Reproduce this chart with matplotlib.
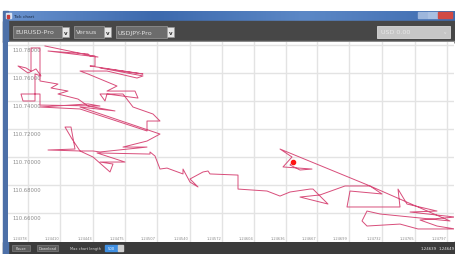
import matplotlib
matplotlib.use("Agg")
import matplotlib.pyplot as plt
from matplotlib.patches import Rectangle
import numpy as np

# EURUSD (x) vs USDJPY (y) tick trail
eurusd = [
    1.24395, 1.24448, 1.24398, 1.24438, 1.24440, 1.24445, 1.24445, 1.24440, 1.24493, 1.24450,
    1.24493, 1.24487, 1.24457, 1.24430, 1.24438, 1.24467, 1.24457, 1.24485, 1.24488, 1.24457,
    1.24455, 1.24450, 1.24473, 1.24483, 1.24503, 1.24510, 1.24497, 1.24497, 1.24430, 1.24390,
    1.24438, 1.24450, 1.24390, 1.24390, 1.24371, 1.24373, 1.24385, 1.24385, 1.24391, 1.24386,
    1.24378, 1.24368, 1.24376, 1.24381, 1.24381, 1.24390, 1.24390, 1.24390, 1.24408, 1.24401,
    1.24418, 1.24408, 1.24428, 1.24438, 1.24465, 1.24430, 1.24510, 1.24497, 1.24473, 1.24497,
    1.24450, 1.24443, 1.24430, 1.24398, 1.24425, 1.24421, 1.24415, 1.24422, 1.24430, 1.24443,
    1.24460, 1.24463, 1.24450, 1.24475, 1.24447, 1.24500, 1.24500, 1.24505, 1.24510, 1.24517,
    1.24533, 1.24533, 1.24540, 1.24548, 1.24540, 1.24553, 1.24558, 1.24560, 1.24588, 1.24588,
    1.24617, 1.24630, 1.24640, 1.24660, 1.24663, 1.24678, 1.24650, 1.24670, 1.24695, 1.24720,
    1.24732, 1.24700, 1.24697, 1.24750, 1.24748, 1.24757, 1.24787, 1.24760, 1.24805, 1.24770,
    1.24787, 1.24805, 1.24768, 1.24750, 1.24717, 1.24712, 1.24717, 1.24730, 1.24800, 1.24720,
    1.24630, 1.24642, 1.24633, 1.24662, 1.24650, 1.24640, 1.24643,
]
usdjpy = [
    110.7793, 110.7714, 110.7757, 110.7736, 110.7721, 110.7721, 110.7650, 110.7650, 110.7593, 110.7636,
    110.7579, 110.7564, 110.7614, 110.7614, 110.7593, 110.7507, 110.7471, 110.7471, 110.7421, 110.7450,
    110.7400, 110.7450, 110.7450, 110.7357, 110.7307, 110.7257, 110.7257, 110.7186, 110.7343, 110.7357,
    110.7379, 110.7364, 110.7371, 110.7450, 110.7450, 110.7400, 110.7400, 110.7593, 110.7579, 110.7629,
    110.7600, 110.7650, 110.7636, 110.7614, 110.7779, 110.7779, 110.7593, 110.7543, 110.7521, 110.7493,
    110.7471, 110.7450, 110.7414, 110.7364, 110.7329, 110.7357, 110.7164, 110.7114, 110.7071, 110.7071,
    110.7036, 110.7043, 110.7043, 110.7050, 110.7057, 110.7214, 110.7214, 110.7129, 110.7043, 110.7000,
    110.6893, 110.6950, 110.6964, 110.6964, 110.7029, 110.7021, 110.7036, 110.7007, 110.6914, 110.6921,
    110.6879, 110.6914, 110.6821, 110.6786, 110.6843, 110.6893, 110.6900, 110.6879, 110.6871, 110.6771,
    110.6757, 110.6721, 110.6750, 110.6771, 110.6771, 110.6664, 110.6714, 110.6729, 110.6793, 110.6793,
    110.6736, 110.6757, 110.6643, 110.6643, 110.6771, 110.6664, 110.6614, 110.6607, 110.6571, 110.6550,
    110.6507, 110.6486, 110.6486, 110.6521, 110.6507, 110.6543, 110.6614, 110.6593, 110.6543, 110.6793,
    110.7057, 110.7000, 110.6929, 110.6914, 110.6907, 110.6943, 110.6964,
]

x_ticks = [1.24378, 1.24410, 1.24443, 1.24475, 1.24507, 1.24540, 1.24572,
           1.24604, 1.24636, 1.24667, 1.24699, 1.24732, 1.24765, 1.24797]
y_ticks = [110.78, 110.76, 110.74, 110.72, 110.70, 110.68, 110.66]

symbols = ["EURUSD-Pro", "Versus", "USDJPY-Pro"]
balance = "USD 0.00"
bid_ask = ["1.24639", "1.24649"]
max_len = "500"

W, H = 456, 255
fig = plt.figure(figsize=(W / 100, H / 100), dpi=100)
fig.patch.set_facecolor("white")

# --- window chrome, drawn in pixel space ---
bg = fig.add_axes([0, 0, 1, 1])
bg.set_xlim(0, W)
bg.set_ylim(H, 0)
bg.axis("off")

grad = np.linspace(0, 1, 200).reshape(1, -1)
bg.imshow(grad, extent=(3, W, 23, 12), cmap=matplotlib.colors.LinearSegmentedColormap.from_list(
    "tb", ["#6a93cf", "#3c69ad", "#5c88c6", "#3f6cb0"]), aspect="auto", zorder=1)
bg.add_patch(Rectangle((3, 22), W - 3, 21, color="#474747", zorder=2))
bg.add_patch(Rectangle((3, 42), W - 3, 1.2, color="#8c8c8c", zorder=2))
bg.add_patch(Rectangle((3, 243), W - 3, 12, color="#3b3b3b", zorder=2))
bg.add_patch(Rectangle((3, 12), 5, 243, color="#4d70a8", zorder=3))

# title bar
bg.add_patch(Rectangle((6, 14), 5, 5, color="#d8e4f4", zorder=3))
bg.add_patch(Rectangle((7, 16), 2.5, 2.5, color="#c83a3a", zorder=4))
bg.text(13, 17.5, "Tick chart", fontsize=3.2, color="#1c2a40", va="center", zorder=4)
bg.add_patch(Rectangle((418, 13), 10, 6, color="#9db6dc", zorder=3))
bg.add_patch(Rectangle((428, 13), 10, 6, color="#a9c0e2", zorder=3))
bg.add_patch(Rectangle((438, 13), 14, 6, color="#d24a44", zorder=3))


def combo(x0, x1, label):
    bg.add_patch(Rectangle((x0, 27), x1 - x0 - 8, 12, facecolor="#6c6c6c",
                           edgecolor="#8e8e8e", lw=0.6, zorder=3))
    bg.add_patch(Rectangle((x1 - 8, 28), 7, 10, facecolor="#e6e6e6",
                           edgecolor="#999999", lw=0.4, zorder=3))
    bg.text(x1 - 4.5, 33.3, "v", fontsize=4, color="#333333", ha="center",
            va="center", fontweight="bold", zorder=4)
    bg.text(x0 + 2, 33, label, fontsize=4.6, color="#dedede", va="center", zorder=4)


combo(13, 70, symbols[0])
combo(74, 112, symbols[1])
combo(116, 175, symbols[2])

bg.add_patch(Rectangle((377, 27), 73, 12, facecolor="#c6c6c6", edgecolor="#dadada",
                       lw=0.6, zorder=3))
bg.text(381, 33, balance, fontsize=4.6, color="#e8e8e8", va="center", zorder=4)
bg.text(445, 32.5, "v", fontsize=3, color="#e8e8e8", ha="center", va="center", zorder=4)

# bottom bar
for x0, x1, label in [(12, 30, "Pause"), (37, 58, "Download")]:
    bg.add_patch(Rectangle((x0, 246), x1 - x0, 6, facecolor="#5c5c5c",
                           edgecolor="#8a8a8a", lw=0.4, zorder=3))
    bg.text((x0 + x1) / 2, 249, label, fontsize=2.6, color="#e0e0e0",
            ha="center", va="center", zorder=4)
bg.text(70, 249, "Max chart length", fontsize=2.6, color="#d0d0d0", va="center", zorder=4)
bg.add_patch(Rectangle((105, 246), 13, 6, color="#3f8fe2", zorder=3))
bg.text(111.5, 249, max_len, fontsize=2.6, color="white", ha="center", va="center", zorder=4)
bg.add_patch(Rectangle((118, 246), 5, 6, color="#cfcfcf", zorder=3))
bg.text(421, 249, bid_ask[0], fontsize=2.8, color="#e6e6e6", va="center", zorder=4)
bg.text(439, 249, bid_ask[1], fontsize=2.8, color="#e6e6e6", va="center", zorder=4)

# --- chart area ---
ax = fig.add_axes([8 / W, (H - 243) / H, (454 - 8) / W, 200 / H])
ax.set_facecolor("white")
ax.set_xlim(1.24358, 1.24804)
ax.set_ylim(110.63929, 110.78214)
ax.set_xticks(x_ticks)
ax.set_yticks(y_ticks)
ax.grid(True, color="#e3e3e3", lw=1.0)
ax.tick_params(length=0, labelbottom=False, labelleft=False)
for s in ax.spines.values():
    s.set_visible(False)

for v in y_ticks:
    ax.annotate(f"{v:.5f}", (0.009, v), xycoords=("axes fraction", "data"),
                xytext=(0, -1.2), textcoords="offset points", va="top", ha="left",
                fontsize=3.8, color="#8a8a8a")
for v in x_ticks:
    ax.text(v - 0.00001, 0.02, f"{v:.5f}", transform=ax.get_xaxis_transform(),
            ha="right", va="center", fontsize=2.6, color="#8a8a8a")

ax.plot(eurusd, usdjpy, color="#d43a6c", lw=0.7, alpha=0.9, zorder=3)
ax.plot(eurusd[-1], usdjpy[-1], marker="o", ms=3, color="#ff1414", zorder=4)

fig.savefig("out.png", dpi=100)
